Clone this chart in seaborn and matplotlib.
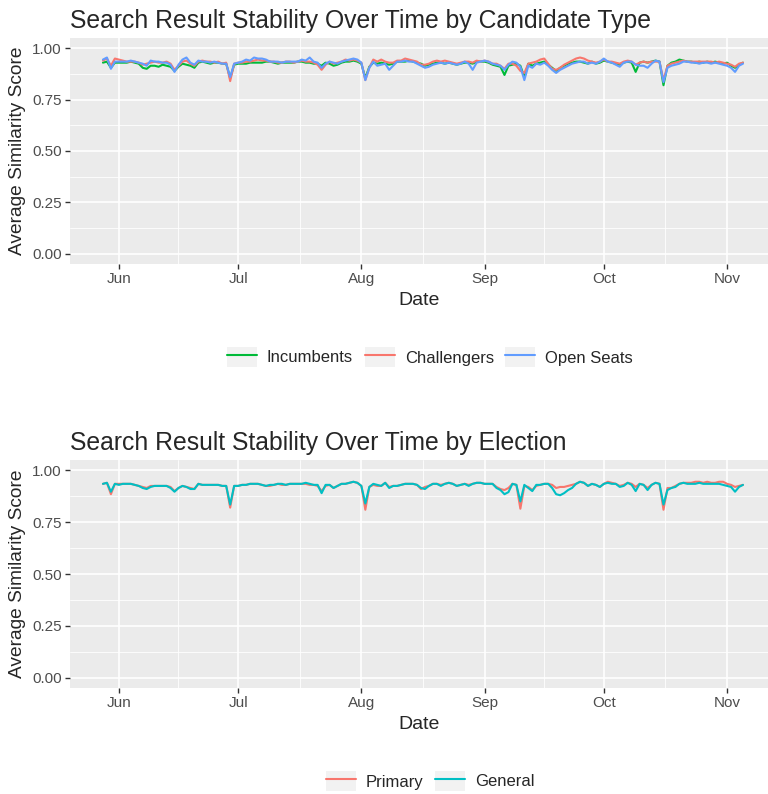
import numpy as np
import pandas as pd
import seaborn as sns
import matplotlib.pyplot as plt
import matplotlib.dates as mdates
from matplotlib.lines import Line2D
from matplotlib.patches import Rectangle
from matplotlib.legend_handler import HandlerLine2D

# daily scores, 2018-05-28 .. 2018-11-05
dates = pd.date_range('2018-05-28', '2018-11-05', freq='D')

incumbents = [
    .93, .935, .905, .93, .93, .93, .93, .935, .93, .925,
    .905, .90, .915, .915, .91, .92, .915, .91, .89, .91,
    .925, .92, .915, .905, .93, .935, .93, .925, .93, .93,
    .925, .925, .855, .92, .925, .925, .925, .93, .93, .93,
    .93, .935, .935, .93, .925, .93, .93, .93, .93, .935,
    .935, .93, .93, .925, .925, .915, .93, .925, .915, .92,
    .93, .935, .935, .94, .935, .925, .855, .91, .93, .925,
    .93, .925, .92, .925, .935, .935, .935, .94, .935, .93,
    .925, .915, .92, .925, .93, .93, .925, .93, .925, .92,
    .925, .93, .93, .925, .935, .935, .935, .93, .92, .915,
    .91, .87, .915, .92, .925, .915, .86, .925, .915, .925,
    .93, .935, .92, .905, .89, .905, .915, .925, .93, .935,
    .935, .93, .925, .935, .925, .93, .94, .935, .93, .925,
    .92, .93, .935, .93, .885, .93, .935, .93, .935, .94,
    .935, .82, .915, .93, .935, .945, .94, .935, .935, .93,
    .935, .93, .935, .93, .935, .93, .925, .93, .915, .905,
    .92, .93]
challengers = [
    .94, .95, .915, .95, .945, .94, .935, .935, .935, .93,
    .92, .925, .93, .935, .93, .93, .935, .925, .895, .915,
    .935, .94, .925, .915, .935, .94, .935, .935, .93, .935,
    .925, .93, .84, .925, .93, .93, .935, .935, .94, .945,
    .94, .94, .935, .935, .93, .93, .935, .935, .93, .935,
    .94, .935, .935, .93, .92, .895, .92, .935, .925, .93,
    .935, .945, .94, .945, .94, .93, .845, .905, .945, .935,
    .945, .935, .93, .93, .94, .94, .95, .945, .94, .935,
    .92, .92, .925, .935, .94, .935, .94, .935, .93, .925,
    .93, .935, .935, .93, .94, .935, .94, .935, .925, .925,
    .915, .90, .925, .925, .915, .89, .88, .925, .93, .935,
    .945, .95, .925, .90, .895, .905, .92, .93, .94, .95,
    .955, .95, .94, .935, .93, .935, .945, .935, .935, .93,
    .925, .935, .94, .935, .92, .93, .935, .93, .935, .935,
    .935, .845, .915, .925, .93, .935, .94, .935, .935, .935,
    .935, .935, .935, .935, .93, .935, .93, .925, .92, .91,
    .925, .93]
open_seats = [
    .945, .955, .90, .935, .935, .935, .935, .94, .935, .93,
    .925, .915, .94, .935, .935, .93, .93, .92, .885, .92,
    .945, .955, .93, .92, .94, .935, .935, .93, .935, .93,
    .925, .925, .86, .925, .93, .935, .945, .94, .955, .95,
    .95, .945, .935, .935, .935, .93, .935, .935, .935, .935,
    .945, .94, .955, .935, .93, .905, .925, .935, .93, .925,
    .935, .94, .945, .95, .945, .93, .845, .905, .935, .915,
    .92, .925, .895, .915, .935, .935, .94, .935, .935, .925,
    .915, .905, .91, .92, .925, .93, .925, .93, .925, .92,
    .925, .935, .925, .895, .93, .935, .94, .935, .925, .92,
    .915, .895, .92, .935, .93, .91, .845, .915, .905, .925,
    .92, .93, .915, .895, .88, .895, .905, .915, .925, .93,
    .935, .935, .925, .93, .925, .935, .95, .935, .93, .92,
    .91, .93, .935, .935, .92, .915, .915, .905, .925, .94,
    .935, .835, .905, .915, .92, .925, .935, .935, .93, .93,
    .925, .93, .93, .925, .93, .925, .92, .915, .905, .885,
    .915, .925]

primary = [
    .935, .94, .885, .935, .935, .935, .935, .935, .93, .925,
    .92, .915, .925, .925, .925, .925, .925, .92, .90, .915,
    .925, .92, .915, .91, .935, .93, .93, .93, .93, .93,
    .925, .925, .82, .925, .925, .93, .93, .935, .935, .935,
    .93, .925, .925, .93, .935, .93, .93, .935, .935, .935,
    .935, .935, .93, .93, .925, .90, .925, .93, .915, .925,
    .935, .935, .94, .945, .94, .925, .81, .92, .93, .925,
    .925, .94, .92, .925, .925, .93, .935, .935, .935, .93,
    .91, .92, .925, .935, .935, .93, .935, .94, .935, .925,
    .93, .935, .93, .935, .94, .94, .935, .935, .935, .92,
    .91, .905, .915, .935, .93, .815, .925, .92, .905, .925,
    .93, .935, .935, .93, .915, .92, .92, .925, .93, .935,
    .945, .94, .925, .935, .93, .92, .935, .945, .94, .935,
    .925, .93, .94, .935, .92, .935, .93, .915, .93, .94,
    .935, .81, .915, .915, .925, .935, .94, .94, .94, .945,
    .945, .94, .945, .94, .94, .945, .945, .935, .93, .92,
    .925, .93]
general = [
    .935, .94, .897, .935, .93, .935, .935, .935, .93, .925,
    .915, .91, .92, .925, .925, .925, .925, .915, .897, .915,
    .925, .92, .91, .91, .935, .93, .93, .93, .93, .93,
    .925, .925, .835, .925, .925, .93, .93, .935, .935, .935,
    .93, .925, .93, .93, .935, .935, .93, .935, .935, .935,
    .935, .94, .935, .93, .93, .89, .93, .93, .915, .925,
    .935, .935, .94, .945, .94, .925, .84, .92, .935, .93,
    .925, .94, .915, .925, .925, .93, .935, .935, .935, .93,
    .915, .91, .925, .935, .935, .925, .935, .94, .935, .925,
    .93, .935, .925, .935, .94, .94, .935, .935, .935, .915,
    .905, .885, .895, .935, .93, .85, .93, .915, .90, .93,
    .93, .935, .935, .915, .885, .88, .89, .905, .915, .935,
    .945, .94, .925, .935, .93, .92, .935, .94, .935, .935,
    .92, .925, .94, .93, .90, .935, .93, .905, .93, .94,
    .935, .835, .905, .915, .92, .935, .94, .935, .935, .935,
    .94, .935, .935, .935, .935, .935, .93, .925, .92, .897,
    .92, .93]

cand_types = ['Incumbents', 'Challengers', 'Open Seats']
cand_colors = ['#00BA38', '#F8766D', '#619CFF']
elections = ['Primary', 'General']
elec_colors = ['#F8766D', '#00BFC4']
month_labels = ['Jun', 'Jul', 'Aug', 'Sep', 'Oct', 'Nov']
month_starts = pd.to_datetime(['2018-06-01', '2018-07-01', '2018-08-01',
                               '2018-09-01', '2018-10-01', '2018-11-01'])

top_df = pd.concat([
    pd.DataFrame({'Date': dates, 'score': v, 'type': t})
    for t, v in zip(cand_types, [incumbents, challengers, open_seats])])
bot_df = pd.concat([
    pd.DataFrame({'Date': dates, 'score': v, 'election': t})
    for t, v in zip(elections, [primary, general])])

sns.set_theme(style='darkgrid')
plt.rcParams['font.family'] = ['Liberation Sans', 'DejaVu Sans']


class KeyHandler(HandlerLine2D):
    # ggplot-like legend key: grey box behind the line
    def create_artists(self, legend, orig_handle, xdescent, ydescent,
                       width, height, fontsize, trans):
        arts = super().create_artists(legend, orig_handle, xdescent, ydescent,
                                      width, height, fontsize, trans)
        bg = Rectangle((-xdescent, -ydescent), width, height,
                       facecolor='#F2F2F2', edgecolor='none', transform=trans)
        return [bg] + list(arts)


fig = plt.figure(figsize=(7.68, 7.94), dpi=100)
ax1 = fig.add_axes([70/768, 1 - 264/794, 698/768, 226/794])
ax2 = fig.add_axes([70/768, 1 - 688/794, 698/768, 228/794])

sns.lineplot(data=top_df, x='Date', y='score', hue='type', hue_order=cand_types,
             palette=cand_colors, linewidth=1.5, ax=ax1, legend=False)
sns.lineplot(data=bot_df, x='Date', y='score', hue='election', hue_order=elections,
             palette=elec_colors, linewidth=1.5, ax=ax2, legend=False)

xmin = mdates.date2num(pd.Timestamp('2018-05-19 17:00'))
xmax = mdates.date2num(pd.Timestamp('2018-11-11 07:00'))
major = mdates.date2num(month_starts)
minor = (major[:-1] + major[1:]) / 2


def style(ax, title):
    ax.set_facecolor('#EBEBEB')
    for s in ax.spines.values():
        s.set_visible(False)
    ax.set_xlim(xmin, xmax)
    ax.set_ylim(-0.05, 1.05)
    ax.set_yticks([0, .25, .5, .75, 1])
    ax.set_yticklabels(['0.00', '0.25', '0.50', '0.75', '1.00'])
    ax.set_yticks([.125, .375, .625, .875], minor=True)
    ax.set_xticks(major)
    ax.set_xticklabels(month_labels)
    ax.set_xticks(minor, minor=True)
    ax.grid(which='major', color='white', linewidth=1.2)
    ax.grid(which='minor', color='white', linewidth=0.6)
    ax.set_axisbelow(True)
    ax.tick_params(which='major', length=3.5, width=1, color='#333333',
                   labelsize=11, labelcolor='#4D4D4D', pad=2.5,
                   bottom=True, left=True)
    ax.tick_params(which='minor', length=0)
    ax.set_xlabel('Date', fontsize=14)
    ax.set_ylabel('Average Similarity Score', fontsize=13.75)
    ax.set_title(title, loc='left', fontsize=17.8, pad=7)


style(ax1, 'Search Result Stability Over Time by Candidate Type')
style(ax2, 'Search Result Stability Over Time by Election')

leg_kw = dict(loc='center', frameon=False, handler_map={Line2D: KeyHandler()},
              fontsize=12, handlelength=1.8, handleheight=1.5,
              columnspacing=0.7, handletextpad=0.6)
h1 = [Line2D([], [], color=c, linewidth=1.5) for c in cand_colors]
fig.legend(h1, cand_types, bbox_to_anchor=(0.56, 1 - 357/794), ncol=3, **leg_kw)
h2 = [Line2D([], [], color=c, linewidth=1.5) for c in elec_colors]
fig.legend(h2, elections, bbox_to_anchor=(0.56, 1 - 781/794), ncol=2, **leg_kw)

fig.savefig('out.png', dpi=100)
